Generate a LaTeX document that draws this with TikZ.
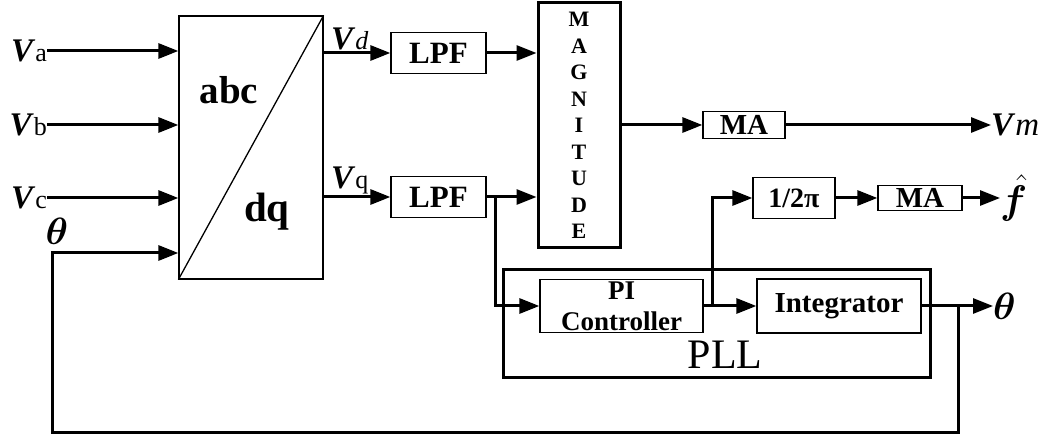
\RequirePackage{fix-cm}
\documentclass[tikz,border=0pt]{standalone}
\usepackage{bm}
\usepackage{fontspec}
\setmainfont{Liberation Serif}
\usetikzlibrary{arrows.meta}
\begin{document}
\begin{tikzpicture}[x=1pt,y=-1pt,
  thinbox/.style={draw, line width=1.3pt, inner sep=0pt, font=\bfseries},
  thickbox/.style={draw, line width=3pt, inner sep=0pt},
  arr/.style={line width=3pt, -{Triangle[length=20pt,width=15pt]}},
  lbl/.style={inner sep=0pt, font=\fontsize{33}{33}\selectfont},
  fs/.style={font=\fontsize{#1}{#1}\selectfont\bfseries}]
\useasboundingbox (0,0) rectangle (1038,435);

% abc/dq block
\node[thinbox, minimum width=144pt, minimum height=263pt] (abc) at (251,147.5) {};
\draw[line width=1.3pt] (abc.south west) -- (abc.north east);
\node[fs=39] (abct) at (229,90) {abc};
\node[fs=41] (dqt) at (267,212) {dq};

% inputs
\node[lbl, anchor=east] (Va) at (47,51) {\textbf{\textit{V}}{\fontsize{26}{26}\selectfont a}};
\node[lbl, anchor=east] (Vb) at (47,125) {\textbf{\textit{V}}{\fontsize{26}{26}\selectfont b}};
\node[lbl, anchor=east] (Vc) at (47,198) {\textbf{\textit{V}}{\fontsize{26}{26}\selectfont c}};
\draw[arr] (Va.east) -- (Va.east -| abc.west);
\draw[arr] (Vb.east) -- (Vb.east -| abc.west);
\draw[arr] (Vc.east) -- (Vc.east -| abc.west);
\node[lbl, font=\fontsize{38}{38}\selectfont] (th1) at (57,231) {$\bm{\theta}$};

% LPFs
\node[thinbox, fs=31, minimum width=95pt, minimum height=41pt] (lpf1) at (438.5,53) {LPF};
\node[thinbox, fs=31, minimum width=95pt, minimum height=41pt] (lpf2) at (438.5,197) {LPF};
\draw[arr] (abc.east |- lpf1) -- (lpf1.west);
\draw[arr] (abc.east |- lpf2) -- (lpf2.west);
\node[lbl, anchor=south west] (Vd) at (331,50) {\textbf{\textit{V}}{\itshape\fontsize{26}{26}\selectfont d}};
\node[lbl, anchor=south west] (Vq) at (331,194) {\textbf{\textit{V}}{\fontsize{26}{26}\selectfont q}};

% magnitude
\node[thickbox, minimum width=82pt, minimum height=245pt, align=center,
  font=\fontsize{22}{26.5}\selectfont\bfseries] (mag) at (579,125.5)
  {M\\A\\G\\N\\I\\T\\U\\D\\E};
\draw[arr] (lpf1) -- (lpf1 -| mag.west);
\draw[arr] (lpf2) -- (lpf2 -| mag.west);

% MA and Vm
\node[thinbox, fs=29, minimum width=82pt, minimum height=27pt] (ma1) at (744,125) {MA};
\draw[arr] (mag.east |- ma1) -- (ma1.west);
\node[lbl, anchor=west] (Vm) at (991,125) {\textbf{\textit{V}}\textit{m}};
\draw[arr] (ma1) -- (Vm.west);

% PLL
\node[thickbox, minimum width=427pt, minimum height=107pt] (pll) at (716.5,323.5) {};
\node[font=\fontsize{42}{42}\selectfont] (pllt) at (725,355) {PLL};
\node[thinbox, minimum width=163pt, minimum height=53pt, align=center,
  font=\fontsize{27}{31}\selectfont\bfseries] (pi) at (621.5,306) {PI\\Controller};
\node[thinbox, fs=29, minimum width=164pt, minimum height=54pt] (int) at (839,306) {Integrator};
\coordinate (b1) at (495,197);
\draw[arr] (b1) |- (pi.west);
\draw[arr] (pi) -- (int);

% 1/2pi and MA
\node[thinbox, fs=28, minimum width=82pt, minimum height=41pt] (half) at (794,198) {1/2π};
\node[thinbox, fs=29, minimum width=84pt, minimum height=25pt] (ma2) at (920,198) {MA};
\coordinate (b2) at (712,306);
\draw[arr] (b2) |- (half.west);
\draw[arr] (half) -- (ma2);
\node[lbl, anchor=west, font=\fontsize{40}{40}\selectfont] (fh) at (1000,198) {$\hat{\bm{f}}$};
\draw[arr] (ma2) -- (fh.west |- ma2);

% theta out and feedback
\node[lbl, anchor=west, font=\fontsize{38}{38}\selectfont] (th2) at (993,306) {$\bm{\theta}$};
\draw[arr] (int) -- (th2.west);
\coordinate (b3) at (958,306);
\draw[arr] (b3) -- ++(0,126) -| (52,253) -- (abc.west |- 0,253);
\end{tikzpicture}
\end{document}
